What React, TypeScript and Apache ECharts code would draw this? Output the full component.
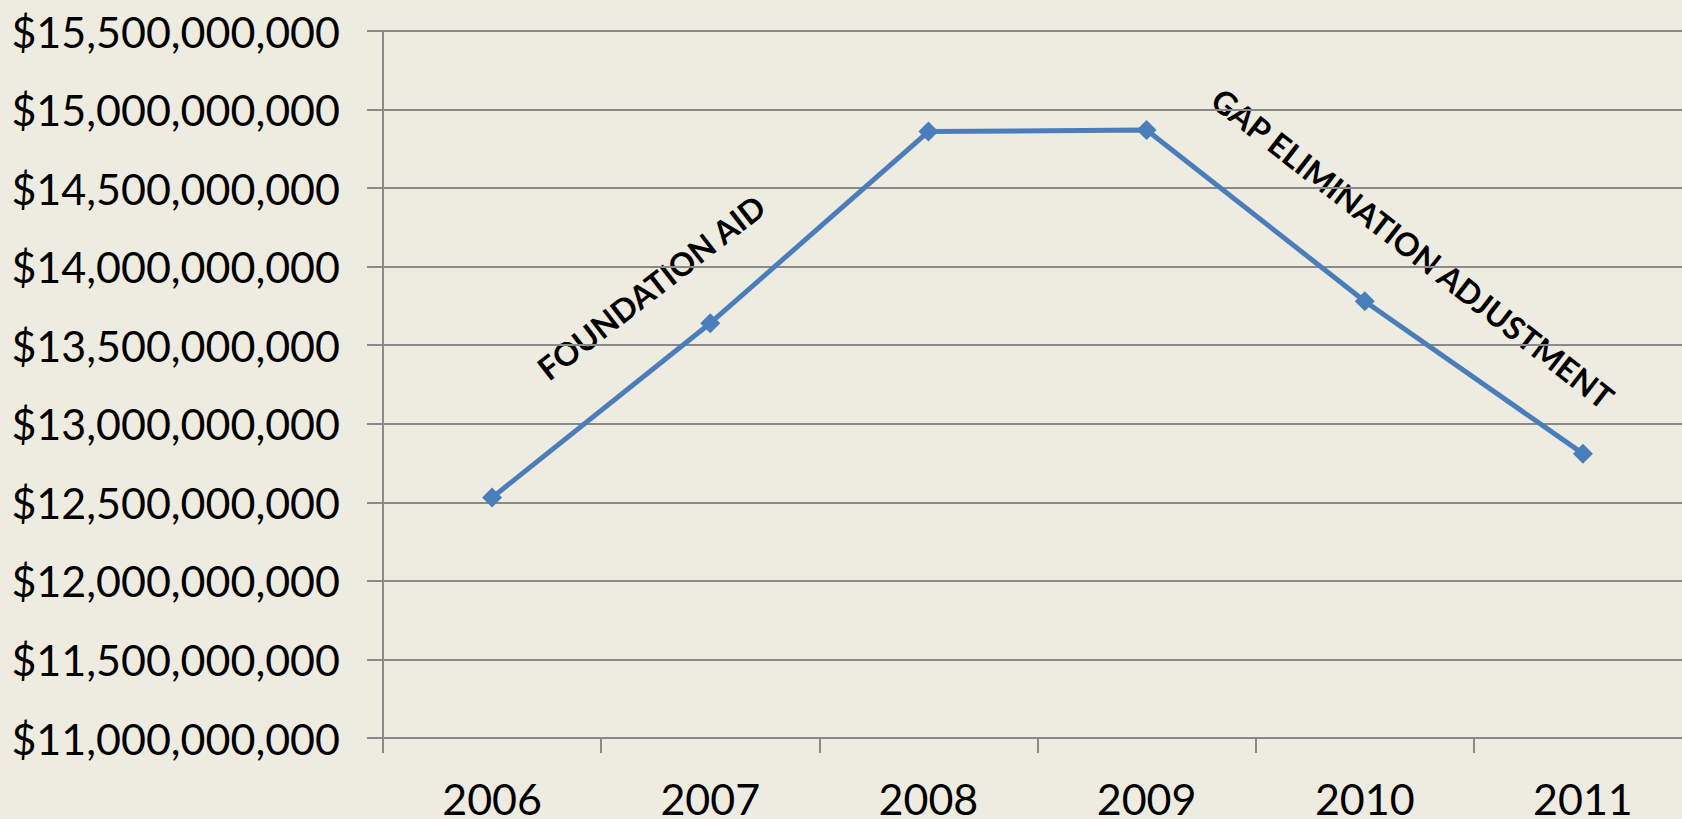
import React, { useEffect, useRef } from "react";
import * as echarts from "echarts";

const years = ["2006", "2007", "2008", "2009", "2010", "2011"];
const aidValues = [12530000000, 13640000000, 14860000000, 14870000000, 13780000000, 12810000000];
const yMin = 11000000000;
const yMax = 15500000000;
const yStep = 500000000;
const annotations = [
  { text: "FOUNDATION AID", x: 651, y: 287, angle: 37.8 },
  { text: "GAP ELIMINATION ADJUSTMENT", x: 1413, y: 248, angle: -37.9 },
];

function fmtMoney(v: number): string {
  return "$" + Math.round(v).toString().replace(/\B(?=(\d{3})+(?!\d))/g, ",");
}

export default function App() {
  const ref = useRef<HTMLDivElement>(null);
  useEffect(() => {
    if (!ref.current) return;
    const chart = echarts.init(ref.current, undefined, { renderer: "svg" });
    const font = "Lato, 'Open Sans', sans-serif";
    chart.setOption({
      animation: false,
      backgroundColor: "#EEECE1",
      grid: {
        left: 383,
        right: -10,
        top: 31,
        bottom: 81,
        containLabel: false,
        outerBoundsMode: "none",
      },
      xAxis: {
        type: "category",
        data: years,
        boundaryGap: true,
        axisLine: { show: true, lineStyle: { color: "#8a8a8a", width: 2 } },
        axisTick: { show: true, length: 15, lineStyle: { color: "#8a8a8a", width: 2 } },
        axisLabel: { color: "#000", fontSize: 43, lineHeight: 32, fontFamily: font, margin: 44 },
        splitLine: { show: false },
      },
      yAxis: {
        type: "value",
        min: yMin,
        max: yMax,
        interval: yStep,
        axisLine: { show: true, lineStyle: { color: "#8a8a8a", width: 2 } },
        axisTick: { show: true, length: 16, lineStyle: { color: "#8a8a8a", width: 2 } },
        axisLabel: { color: "#000", fontSize: 43, fontFamily: font, margin: 43, formatter: (v: number) => fmtMoney(v) },
        splitLine: { show: true, lineStyle: { color: "#8a8a8a", width: 2 } },
      },
      series: [
        {
          type: "line",
          data: aidValues,
          symbol: "diamond",
          symbolSize: 20,
          lineStyle: { color: "#4A7EBB", width: 5 },
          itemStyle: { color: "#4A7EBB" },
        },
      ],
      graphic: annotations.map((a) => ({
        type: "text",
        x: a.x,
        y: a.y,
        rotation: (a.angle * Math.PI) / 180,
        style: {
          text: a.text,
          fill: "#000",
          font: `bold 32px ${font}`,
          textAlign: "center",
          textVerticalAlign: "middle",
        },
      })),
    });
    return () => chart.dispose();
  }, []);
  return (
    <div
      ref={ref}
      style={{ position: "fixed", left: 0, top: 0, width: 1682, height: 819, overflow: "hidden" }}
    />
  );
}
